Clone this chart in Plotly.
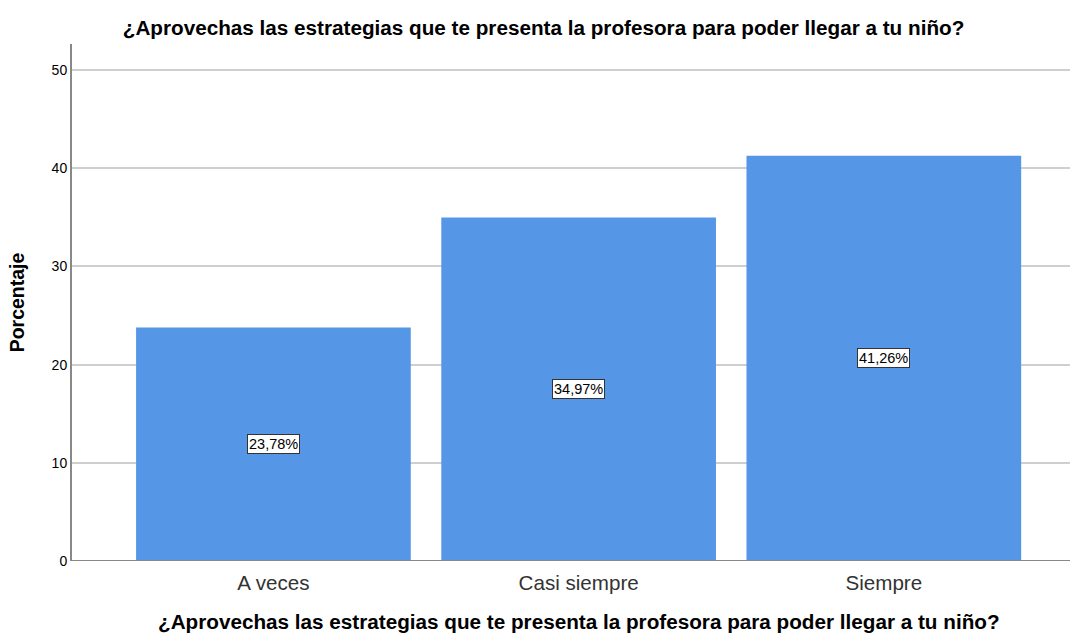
import plotly.graph_objects as go

categories = ["A veces", "Casi siempre", "Siempre"]
values = [23.78, 34.97, 41.26]
labels = ["23,78%", "34,97%", "41,26%"]
title_text = "¿Aprovechas las estrategias que te presenta la profesora para poder llegar a tu niño?"

fig = go.Figure()
fig.add_trace(go.Bar(
    x=list(range(len(categories))), y=values, width=0.9,
    marker=dict(color="#5596E6", line=dict(width=0)),
    hoverinfo="skip",
))
for i, (v, lab) in enumerate(zip(values, labels)):
    fig.add_annotation(x=i, y=v / 2, text=lab, showarrow=False,
                       font=dict(family="Arial, Liberation Sans", size=14.5, color="black"),
                       bgcolor="white", bordercolor="#333333", borderwidth=1, borderpad=1)

# x-axis title (placed as annotation to match the offset of the reference)
fig.add_annotation(xref="paper", yref="paper", x=0.508, y=-0.1175, xanchor="center", yanchor="middle",
                   text="<b>" + title_text + "</b>", showarrow=False,
                   font=dict(family="Arial, Liberation Sans", size=20.7, color="black"))

fig.update_layout(
    width=1071, height=635,
    margin=dict(l=72, r=1, t=44, b=74, autoexpand=False),
    paper_bgcolor="white", plot_bgcolor="white",
    showlegend=False,
    title=dict(text="<b>" + title_text + "</b>", x=0.5075, xanchor="center", y=0.956, yanchor="middle",
               font=dict(family="Arial, Liberation Sans", size=20.7, color="black")),
    font=dict(family="Arial, Liberation Sans"),
)
fig.update_xaxes(
    range=[-0.66, 2.61], tickmode="array", tickvals=list(range(len(categories))), ticktext=categories,
    showgrid=False, zeroline=False, showline=False, ticks="", automargin=False,
    ticklabelstandoff=7,
    tickfont=dict(size=20.6, color="#333333"),
)
fig.update_yaxes(
    range=[0, 52.65], tickvals=[0, 10, 20, 30, 40, 50], automargin=False,
    showgrid=True, gridcolor="#CFCFCF", gridwidth=2, zeroline=False,
    showline=True, linecolor="#888888", linewidth=2, ticks="",
    tickfont=dict(size=14, color="black"),
    title=dict(text="<b>Porcentaje</b>", font=dict(size=19.5, color="black"), standoff=22),
)
fig.add_shape(type="line", xref="paper", yref="y", x0=0, x1=1, y0=0, y1=0,
              line=dict(color="#888888", width=2), layer="above")
fig.write_html("out.html", config={"displayModeBar": False},
               post_script="document.body.style.margin='0';")
